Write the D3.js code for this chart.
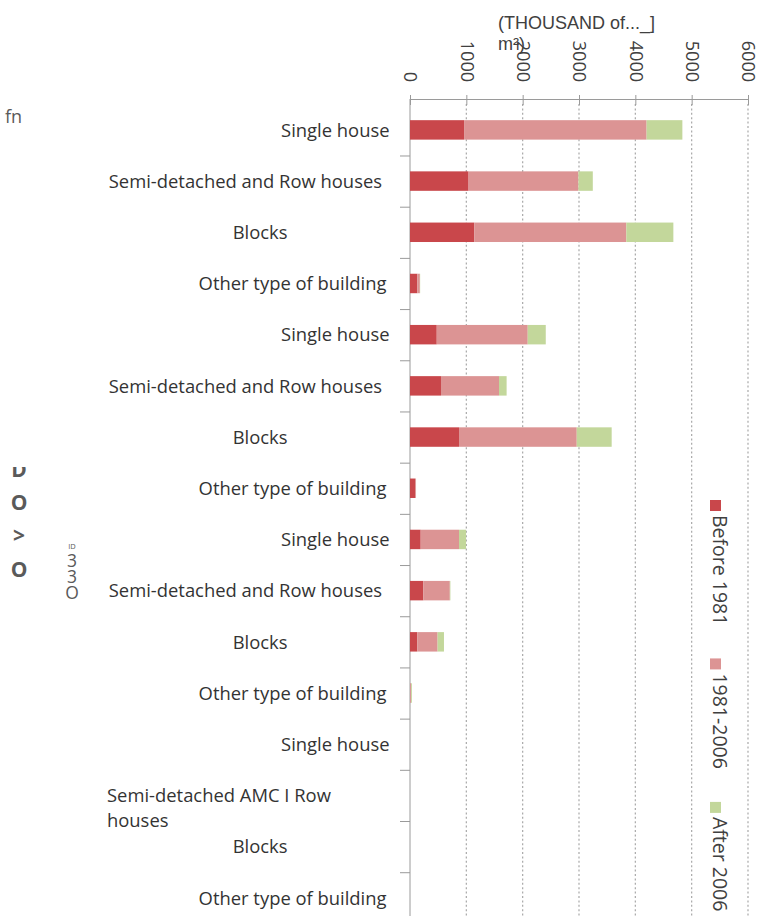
<!DOCTYPE html>
<html>
<head>
<meta charset="utf-8">
<script src="https://cdn.jsdelivr.net/npm/d3@7"></script>
<style>
  body { margin: 0; background: #fff; }
  svg { display: block; }
  text { font-family: "Open Sans", sans-serif; }
</style>
</head>
<body>
<svg id="chart" width="770" height="916"></svg>
<script>
// Building stock by type and construction period (thousand m²)
const categories = [
  "Single house", "Semi-detached and Row houses", "Blocks", "Other type of building",
  "Single house", "Semi-detached and Row houses", "Blocks", "Other type of building",
  "Single house", "Semi-detached and Row houses", "Blocks", "Other type of building",
  "Single house", "Semi-detached AMC I Row houses", "Blocks", "Other type of building"
];
const seriesNames = ["Before 1981", "1981-2006", "After 2006"];
const before1981 = [960, 1040, 1140, 130, 475, 550, 870, 90, 190, 237, 130, 5, 0, 0, 0, 0];
const from1981to2006 = [3240, 1950, 2700, 45, 1615, 1030, 2090, 17, 680, 470, 360, 15, 0, 0, 0, 0];
const after2006 = [635, 255, 835, 5, 320, 135, 620, 0, 125, 10, 113, 15, 0, 0, 0, 0];
const xTicks = [0, 1000, 2000, 3000, 4000, 5000, 6000];
const axisTitle = ["(THOUSAND of..._]", "m²)"];

const colors = ["#c9474b", "#dc9494", "#c3d79b"];

const svg = d3.select("#chart");
svg.append("rect").attr("width", 770).attr("height", 916).attr("fill", "#fff");

const x = d3.scaleLinear().domain([0, 6000]).range([410, 748]);
const yTop = 104.3, yBottom = 923.4;
const y = d3.scaleBand()
  .domain(d3.range(categories.length))
  .range([yTop, yBottom])
  .paddingInner(0.62)
  .paddingOuter(0.31);

// dotted vertical gridlines
svg.append("g")
  .selectAll("line")
  .data(xTicks.filter(d => d > 0))
  .join("line")
  .attr("x1", d => x(d)).attr("x2", d => x(d))
  .attr("y1", 104).attr("y2", 916)
  .attr("stroke", "#a8a8a8")
  .attr("stroke-width", 1.2)
  .attr("stroke-dasharray", "2,2.4");

// value axis along the top, labels turned a quarter clockwise
const gx = svg.append("g")
  .attr("transform", "translate(0,99)")
  .call(d3.axisTop(x).tickValues(xTicks).tickSize(4).tickSizeOuter(0).tickFormat(d3.format("d")))
  .attr("font-family", '"Open Sans", sans-serif')
  .attr("font-size", 18);
gx.select(".domain").attr("stroke", "#9a9a9a");
gx.selectAll(".tick line").attr("stroke", "#9a9a9a").attr("y1", 6).attr("y2", -4);
gx.selectAll(".tick text")
  .attr("fill", "#404040")
  .attr("x", 0).attr("y", 0)
  .attr("dy", "0.35em")
  .attr("text-anchor", "end")
  .attr("transform", "translate(0,-17) rotate(90)");

// category axis with ticks between rows
const yIdx = d3.scaleLinear().domain([0, categories.length]).range([yTop, yBottom]);
const gy = svg.append("g")
  .attr("transform", "translate(410,0)")
  .call(d3.axisLeft(yIdx).tickValues(d3.range(1, categories.length)).tickFormat("").tickSize(10).tickSizeOuter(0));
gy.select(".domain").attr("stroke", "#9a9a9a").attr("d", `M0,99V${yBottom}`);
gy.selectAll(".tick line").attr("stroke", "#9a9a9a");

// stacked bars
const rows = categories.map((c, i) => ({
  i,
  "Before 1981": before1981[i],
  "1981-2006": from1981to2006[i],
  "After 2006": after2006[i]
}));
const stacked = d3.stack().keys(seriesNames)(rows);
svg.append("g")
  .selectAll("g")
  .data(stacked)
  .join("g")
  .attr("fill", (d, k) => colors[k])
  .selectAll("rect")
  .data(d => d)
  .join("rect")
  .attr("x", d => x(d[0]))
  .attr("width", d => Math.max(0, x(d[1]) - x(d[0])))
  .attr("y", d => y(d.data.i))
  .attr("height", y.bandwidth());

// category labels
const labelEnd = {
  "Single house": 389.5,
  "Semi-detached and Row houses": 382,
  "Blocks": 287.5,
  "Other type of building": 386.5
};
const labels = svg.append("g").attr("fill", "#333").attr("font-size", 18.4);
categories.forEach((c, i) => {
  const cy = y(i) + y.bandwidth() / 2;
  if (labelEnd[c] !== undefined) {
    labels.append("text")
      .attr("x", labelEnd[c])
      .attr("y", cy)
      .attr("dy", "0.37em")
      .attr("text-anchor", "end")
      .text(c);
  } else {
    const words = c.split(" ");
    const t = labels.append("text").attr("x", 107).attr("y", cy).attr("dy", "0.34em");
    t.append("tspan").attr("x", 107).text(words.slice(0, -1).join(" "));
    t.append("tspan").attr("x", 107).attr("dy", 25).text(words[words.length - 1]);
  }
});

// axis title in two lines
const title = svg.append("g")
  .attr("fill", "#404040")
  .attr("font-size", 18)
  .style("font-family", '"Liberation Sans", Arial, sans-serif');
title.append("text").attr("x", 498).attr("y", 29).style("font-family", "inherit").text(axisTitle[0]);
title.append("text").attr("x", 498).attr("y", 50).style("font-family", "inherit").text(axisTitle[1]);

// legend, turned a quarter clockwise
const legend = svg.append("g").attr("font-size", 19.5).attr("fill", "#404040");
let ly = 500;
seriesNames.forEach((name, k) => {
  legend.append("rect")
    .attr("x", 710).attr("y", ly)
    .attr("width", 11).attr("height", 11)
    .attr("fill", colors[k]);
  const t = legend.append("text")
    .attr("transform", `translate(713,${ly + 15}) rotate(90)`)
    .text(name);
  ly += 15 + t.node().getComputedTextLength() + 33;
});

// stray marks in the left margin
const margin = svg.append("g").attr("fill", "#5a5a5a");
margin.append("text").attr("x", 5).attr("y", 123).attr("font-size", 18).text("fn");
svg.append("clipPath").attr("id", "cutTop")
  .append("rect").attr("x", 0).attr("y", 467).attr("width", 60).attr("height", 20);
const boldCol = margin.append("text")
  .attr("x", 19).attr("y", 477)
  .attr("font-size", 21).attr("font-weight", 700)
  .attr("text-anchor", "middle");
boldCol.append("tspan").attr("x", 19).attr("clip-path", "url(#cutTop)").text("D");
boldCol.append("tspan").attr("x", 19).attr("dy", 33).text("O");
boldCol.append("tspan").attr("x", 19).attr("dy", 33).text(">");
boldCol.append("tspan").attr("x", 19).attr("dy", 34).text("O");
// tiny mark above an upright vertical column of characters
margin.append("text").attr("x", 72).attr("y", 548.5).attr("font-size", 7.5)
  .attr("text-anchor", "middle").text("ID");
margin.append("text")
  .attr("x", 72).attr("y", 548)
  .attr("font-size", 17.5)
  .style("writing-mode", "vertical-rl")
  .style("text-orientation", "upright")
  .style("letter-spacing", "-8.2px")
  .text("33O");
</script>
</body>
</html>
